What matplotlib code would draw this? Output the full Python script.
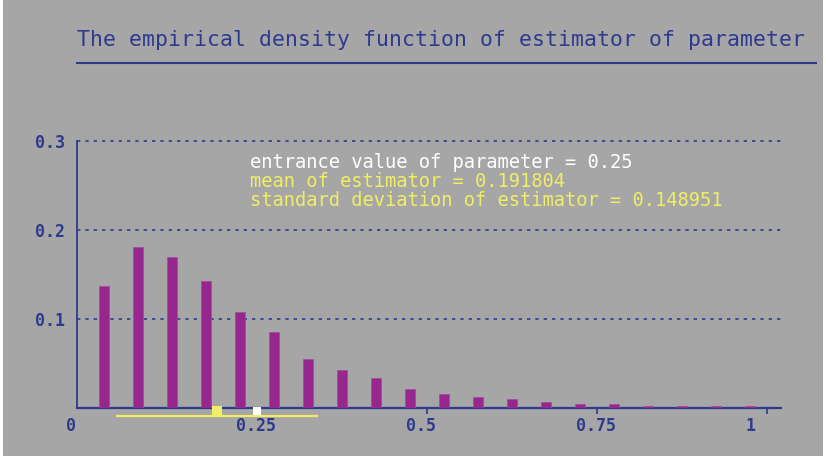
import matplotlib
matplotlib.use("Agg")
import matplotlib.pyplot as plt
import matplotlib.transforms as mtransforms
from matplotlib.patches import Rectangle

# ---- data ----
bin_centers = [0.025, 0.075, 0.125, 0.175, 0.225, 0.275, 0.325, 0.375, 0.425, 0.475,
               0.525, 0.575, 0.625, 0.675, 0.725, 0.775, 0.825, 0.875, 0.925, 0.975]
densities = [0.137, 0.181, 0.170, 0.143, 0.108, 0.085, 0.055, 0.042, 0.033, 0.021,
             0.015, 0.012, 0.010, 0.006, 0.004, 0.004, 0.002, 0.002, 0.002, 0.002]
x_ticks = [0, 0.25, 0.5, 0.75, 1]
x_tick_labels = ["0", "0.25", "0.5", "0.75", "1"]
y_ticks = [0.1, 0.2, 0.3]
y_tick_labels = ["0.1", "0.2", "0.3"]
true_value = 0.25
mean_est = 0.191804
std_est = 0.148951
title = "The empirical density function of estimator of parameter"
info_lines = ["entrance value of parameter = 0.25",
              "mean of estimator = 0.191804",
              "standard deviation of estimator = 0.148951"]

# ---- style ----
BG = "#a6a6a6"
BLUE = "#2e3a8e"
PURPLE = "#97268e"
YELLOW = "#f0ee64"
WHITE = "#ffffff"
MONO = "DejaVu Sans Mono"

W, H = 826, 458
fig = plt.figure(figsize=(W / 100, H / 100), dpi=100, facecolor="white")
fig.patches.append(Rectangle((3 / W, 2 / H), 820 / W, 456 / H, transform=fig.transFigure,
                             facecolor=BG, edgecolor="none", zorder=-10))

def px(x, y):
    return x / W, 1 - y / H

# axes geometry (pixel coords from top-left)
ax_left, ax_right = 76.5, 781.0
y0_px, y3_px = 407.7, 141.0
x0_px, x1_px = 86.7, 766.7
xmin = (ax_left - x0_px) / (x1_px - x0_px)
xmax = (ax_right - x0_px) / (x1_px - x0_px)

ax = fig.add_axes([ax_left / W, (H - y0_px) / H, (ax_right - ax_left) / W, (y0_px - y3_px) / H])
ax.set_facecolor("none")
ax.set_xlim(xmin, xmax)
ax.set_ylim(0, 0.3)

for s in ["top", "right"]:
    ax.spines[s].set_visible(False)
ax.spines["left"].set_color(BLUE)
ax.spines["bottom"].set_color(BLUE)
ax.spines["left"].set_linewidth(1.3)
ax.spines["bottom"].set_linewidth(1.6)

# grid lines
for yv in y_ticks:
    ax.axhline(yv, color=BLUE, linestyle=(0, (2, 3)), linewidth=1.2, zorder=1, clip_on=False)

# bars
ax.bar(bin_centers, densities, width=0.0145, color=PURPLE, edgecolor="#a04a9a",
       linewidth=0.5, zorder=3)

# y ticks
ax.set_yticks(y_ticks)
ax.set_yticklabels(y_tick_labels, fontfamily=MONO, fontweight="bold", fontsize=12, color=BLUE)
ax.tick_params(axis="y", length=0, pad=8)

# x ticks: small downward ticks, labels drawn left-shifted
ax.set_xticks(x_ticks[1:])
ax.set_xticklabels([])
ax.tick_params(axis="x", direction="out", length=4, width=1.2, color=BLUE)
lab_tr = mtransforms.blended_transform_factory(ax.transData, ax.transAxes) + \
    mtransforms.ScaledTranslation(-21 / 100, -18 / 100, fig.dpi_scale_trans)
for xv, lab in zip(x_ticks, x_tick_labels):
    ax.text(xv, 0, lab, transform=lab_tr, ha="left", va="center", fontfamily=MONO,
            fontweight="bold", fontsize=12, color=BLUE, clip_on=False)

# mean +- std line and markers below the axis
line_tr = mtransforms.blended_transform_factory(ax.transData, ax.transAxes) + \
    mtransforms.ScaledTranslation(0, -8 / 100, fig.dpi_scale_trans)
ax.plot([mean_est - std_est, mean_est + std_est], [0, 0], color=YELLOW, linewidth=1.6,
        transform=line_tr, clip_on=False, zorder=4, solid_capstyle="butt")
mk_tr = mtransforms.blended_transform_factory(ax.transData, ax.transAxes) + \
    mtransforms.ScaledTranslation(0, -3.5 / 100, fig.dpi_scale_trans)
ax.plot([mean_est], [0], marker="s", markersize=6.5, color=YELLOW, markeredgewidth=0,
        transform=mk_tr, clip_on=False, zorder=5, linestyle="none")
ax.plot([true_value], [0], marker="s", markersize=6.0, color=WHITE, markeredgewidth=0,
        transform=mk_tr, clip_on=False, zorder=5, linestyle="none")

# title and underline
fig.text(*px(77, 40), title, ha="left", va="center", fontfamily=MONO, fontsize=15.5,
         color=BLUE)
fig.add_artist(plt.Line2D([77 / W, 816 / W], [1 - 63 / H, 1 - 63 / H], color=BLUE,
                          linewidth=1.5, transform=fig.transFigure))

# info text
colors = [WHITE, YELLOW, YELLOW]
ys = [163, 182, 200]
for txt, c, yy in zip(info_lines, colors, ys):
    fig.text(*px(250, yy), txt, ha="left", va="center", fontfamily=MONO, fontsize=13.5,
             color=c)

fig.savefig("out.png", dpi=100, facecolor="white")
